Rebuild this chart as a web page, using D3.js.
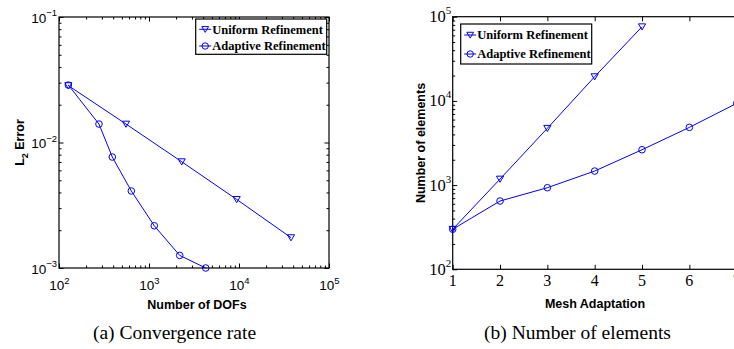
<!DOCTYPE html>
<html>
<head>
<meta charset="utf-8">
<script src="https://cdn.jsdelivr.net/npm/d3@7"></script>
<style>
  body { margin: 0; background: #fff; }
  svg { display: block; }
</style>
</head>
<body>
<svg id="chart" width="734" height="349"></svg>
<script>
// ---------- Data ----------
const seriesNames = ["Uniform Refinement", "Adaptive Refinement"];

// (a) Convergence rate
const dofsUniform = [127, 555, 2306, 9420, 37800];
const errUniform = [0.0284, 0.01403, 0.00703, 0.00352, 0.001746];
const dofsAdaptive = [127, 278, 391, 636, 1145, 2193, 4266];
const errAdaptive = [0.0287, 0.01403, 0.00766, 0.00411, 0.00217, 0.00126, 0.0010];
const leftXTickExps = [2, 3, 4, 5];
const leftYTickExps = [-3, -2, -1];

// (b) Number of elements
const adaptUniform = [1, 2, 3, 4, 5];
const elemsUniform = [299, 1180, 4730, 19400, 76000];
const adaptAdaptive = [1, 2, 3, 4, 5, 6, 7];
const elemsAdaptive = [299, 647, 931, 1469, 2630, 4850, 9350];
const rightXTicks = [1, 2, 3, 4, 5, 6, 7];
const rightYTickExps = [2, 3, 4, 5];

const captions = ["(a) Convergence rate", "(b) Number of elements"];

// ---------- Setup ----------
const svg = d3.select("#chart");
const BLUE = "#0000ff";
const SANS = "'Liberation Sans', Arial, Helvetica, sans-serif";
const SERIF = "'Liberation Serif', 'Times New Roman', serif";

function minorLogTicks(lo, hi) {
  const out = [];
  for (let e = lo; e < hi; e++) for (let m = 2; m <= 9; m++) out.push(m * Math.pow(10, e));
  return out;
}

function triPath(s) { // downward triangle
  return `M${-s},${-s * 0.8}L${s},${-s * 0.8}L0,${s * 0.9}Z`;
}

function drawMarkers(g, xs, ys, sx, sy, type) {
  const pts = xs.map((d, i) => [sx(d), sy(ys[i])]);
  if (type === "tri") {
    g.selectAll(null).data(pts).enter().append("path")
      .attr("d", triPath(3.6))
      .attr("transform", d => `translate(${d[0]},${d[1]})`)
      .attr("fill", "none").attr("stroke", BLUE).attr("stroke-width", 1);
  } else {
    g.selectAll(null).data(pts).enter().append("circle")
      .attr("cx", d => d[0]).attr("cy", d => d[1]).attr("r", 3.3)
      .attr("fill", "none").attr("stroke", BLUE).attr("stroke-width", 1);
  }
}

function drawLine(g, xs, ys, sx, sy) {
  const line = d3.line().x(d => sx(d[0])).y(d => sy(d[1]));
  g.append("path").datum(xs.map((d, i) => [d, ys[i]]))
    .attr("d", line).attr("fill", "none").attr("stroke", BLUE).attr("stroke-width", 1);
}

function styleAxis(sel) {
  sel.select(".domain").remove();
  sel.selectAll(".tick line").attr("stroke", "#000").attr("stroke-width", 1);
  sel.selectAll(".tick text").remove();
}

function legend(g, x0, y0, w, h, rowYs) {
  g.append("rect").attr("x", x0).attr("y", y0).attr("width", w).attr("height", h)
    .attr("fill", "#fff").attr("stroke", "#000").attr("stroke-width", 1.2);
  const types = ["tri", "circ"];
  seriesNames.forEach((name, i) => {
    const cy = rowYs[i];
    g.append("line").attr("x1", x0 + 3.5).attr("x2", x0 + 15.5)
      .attr("y1", cy).attr("y2", cy).attr("stroke", BLUE).attr("stroke-width", 1);
    if (types[i] === "tri") {
      g.append("path").attr("d", triPath(3.4)).attr("transform", `translate(${x0 + 9.5},${cy})`)
        .attr("fill", "none").attr("stroke", BLUE);
    } else {
      g.append("circle").attr("cx", x0 + 9.5).attr("cy", cy).attr("r", 3.2)
        .attr("fill", "none").attr("stroke", BLUE);
    }
    g.append("text").attr("x", x0 + 16.5).attr("y", cy + 4.3)
      .attr("font-family", SERIF).attr("font-weight", "bold").attr("font-size", "12.5px")
      .attr("fill", "#000").text(name);
  });
}

// ---------- Left chart ----------
(function () {
  const L = 59, R = 329, T = 17, B = 268;
  const x = d3.scaleLog().domain([1e2, 1e5]).range([L, R]);
  const y = d3.scaleLog().domain([1e-3, 1e-1]).range([B, T]);
  const g = svg.append("g");

  const xMaj = leftXTickExps.map(e => Math.pow(10, e));
  const yMaj = leftYTickExps.map(e => Math.pow(10, e));
  const xMin = minorLogTicks(2, 5);
  const yMin = minorLogTicks(-3, -1);

  // ticks on all four sides, inward
  g.append("g").attr("transform", `translate(0,${B})`).call(d3.axisBottom(x).tickValues(xMaj).tickSize(-4.5)).call(styleAxis);
  g.append("g").attr("transform", `translate(0,${B})`).call(d3.axisBottom(x).tickValues(xMin).tickSize(-2.5)).call(styleAxis);
  g.append("g").attr("transform", `translate(0,${T})`).call(d3.axisTop(x).tickValues(xMaj).tickSize(-4.5)).call(styleAxis);
  g.append("g").attr("transform", `translate(0,${T})`).call(d3.axisTop(x).tickValues(xMin).tickSize(-2.5)).call(styleAxis);
  g.append("g").attr("transform", `translate(${L},0)`).call(d3.axisLeft(y).tickValues(yMaj).tickSize(-4.5)).call(styleAxis);
  g.append("g").attr("transform", `translate(${L},0)`).call(d3.axisLeft(y).tickValues(yMin).tickSize(-2.5)).call(styleAxis);
  g.append("g").attr("transform", `translate(${R},0)`).call(d3.axisRight(y).tickValues(yMaj).tickSize(-4.5)).call(styleAxis);
  g.append("g").attr("transform", `translate(${R},0)`).call(d3.axisRight(y).tickValues(yMin).tickSize(-2.5)).call(styleAxis);

  g.append("rect").attr("x", L).attr("y", T).attr("width", R - L).attr("height", B - T)
    .attr("fill", "none").attr("stroke", "#000").attr("stroke-width", 1.2);

  // tick labels
  leftXTickExps.forEach(e => {
    const t = g.append("text").attr("x", x(Math.pow(10, e)) + 0.5).attr("y", B + 22)
      .attr("text-anchor", "middle").attr("font-family", SANS).attr("font-size", "13.5px").attr("fill", "#000");
    t.append("tspan").text("10");
    t.append("tspan").attr("dy", -6.5).attr("font-size", "9.5px").text(String(e));
  });
  leftYTickExps.forEach(e => {
    const t = g.append("text").attr("x", L - 2).attr("y", y(Math.pow(10, e)) + 5.5)
      .attr("text-anchor", "end").attr("font-family", SANS).attr("font-size", "13.5px").attr("fill", "#000");
    t.append("tspan").text("10");
    t.append("tspan").attr("dy", -6.5).attr("font-size", "9.5px").text(e < 0 ? "\u2212" + (-e) : String(e));
  });

  // axis titles
  g.append("text").attr("x", (L + R) / 2 + 3).attr("y", 309).attr("text-anchor", "middle")
    .attr("font-family", SANS).attr("font-weight", "bold").attr("font-size", "12.5px").text("Number of DOFs");
  const yt = g.append("text").attr("transform", `translate(24,${(T + B) / 2}) rotate(-90)`).attr("text-anchor", "middle")
    .attr("font-family", SANS).attr("font-weight", "bold").attr("font-size", "12.5px");
  yt.append("tspan").text("L");
  yt.append("tspan").attr("dy", 4).attr("font-size", "9px").text("2");
  yt.append("tspan").attr("dy", -4).text(" Error");

  // data
  drawLine(g, dofsUniform, errUniform, x, y);
  drawLine(g, dofsAdaptive, errAdaptive, x, y);
  drawMarkers(g, dofsUniform, errUniform, x, y, "tri");
  drawMarkers(g, dofsAdaptive, errAdaptive, x, y, "circ");

  legend(g, 195.7, 19, 131, 35.3, [29.3, 46]);

  g.append("text").attr("x", 174.5).attr("y", 339).attr("text-anchor", "middle")
    .attr("font-family", SERIF).attr("font-size", "19.5px").text(captions[0]);
})();

// ---------- Right chart ----------
(function () {
  const L = 452.7, R = 736.7, T = 16.7, B = 269.3;
  const x = d3.scaleLinear().domain([1, 7]).range([L, R]);
  const y = d3.scaleLog().domain([1e2, 1e5]).range([B, T]);
  const g = svg.append("g");

  const yMaj = rightYTickExps.map(e => Math.pow(10, e));
  const yMin = minorLogTicks(2, 5);

  g.append("g").attr("transform", `translate(0,${B})`).call(d3.axisBottom(x).tickValues(rightXTicks).tickSize(-4.5)).call(styleAxis);
  g.append("g").attr("transform", `translate(0,${T})`).call(d3.axisTop(x).tickValues(rightXTicks).tickSize(-4.5)).call(styleAxis);
  g.append("g").attr("transform", `translate(${L},0)`).call(d3.axisLeft(y).tickValues(yMaj).tickSize(-4.5)).call(styleAxis);
  g.append("g").attr("transform", `translate(${L},0)`).call(d3.axisLeft(y).tickValues(yMin).tickSize(-2.5)).call(styleAxis);

  g.append("rect").attr("x", L).attr("y", T).attr("width", R - L).attr("height", B - T)
    .attr("fill", "none").attr("stroke", "#000").attr("stroke-width", 1.2);

  rightXTicks.forEach(v => {
    g.append("text").attr("x", x(v)).attr("y", B + 17).attr("text-anchor", "middle")
      .attr("font-family", SERIF).attr("font-size", "16px").attr("fill", "#000").text(String(v));
  });
  rightYTickExps.forEach(e => {
    const t = g.append("text").attr("x", L - 1.5).attr("y", y(Math.pow(10, e)) + 5.5)
      .attr("text-anchor", "end").attr("font-family", SERIF).attr("font-size", "16.5px").attr("fill", "#000");
    t.append("tspan").text("10");
    t.append("tspan").attr("dy", -8).attr("font-size", "11px").text(String(e));
  });

  g.append("text").attr("x", 595).attr("y", 308).attr("text-anchor", "middle")
    .attr("font-family", SANS).attr("font-weight", "bold").attr("font-size", "12.5px").text("Mesh Adaptation");
  g.append("text").attr("transform", `translate(425,${(T + B) / 2}) rotate(-90)`).attr("text-anchor", "middle")
    .attr("font-family", SANS).attr("font-weight", "bold").attr("font-size", "12.5px").text("Number of elements");

  drawLine(g, adaptUniform, elemsUniform, x, y);
  drawLine(g, adaptAdaptive, elemsAdaptive, x, y);
  drawMarkers(g, adaptUniform, elemsUniform, x, y, "tri");
  drawMarkers(g, adaptAdaptive, elemsAdaptive, x, y, "circ");

  legend(g, 460.7, 24, 131, 40, [35, 54]);

  g.append("text").attr("x", 577.5).attr("y", 339).attr("text-anchor", "middle")
    .attr("font-family", SERIF).attr("font-size", "19.5px").text(captions[1]);
})();
</script>
</body>
</html>
